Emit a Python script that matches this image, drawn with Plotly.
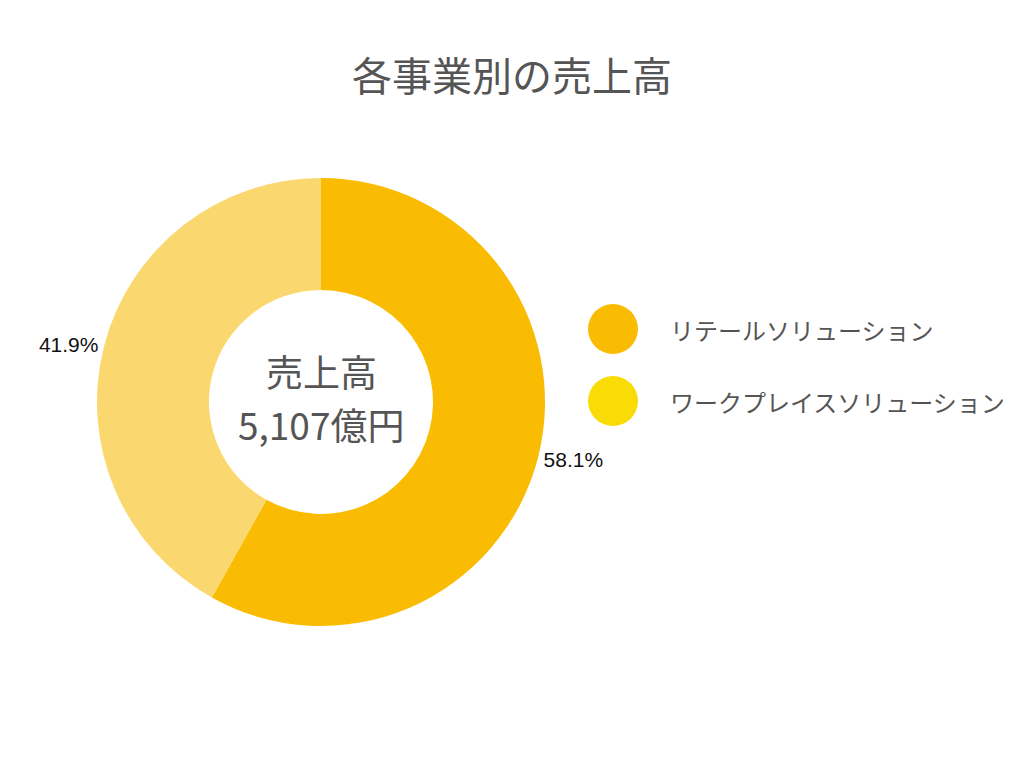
import plotly.graph_objects as go

categories = ["リテールソリューション", "ワークプレイスソリューション"]
shares = [58.1, 41.9]
slice_colors = ["#F9BC03", "#FBD76F"]
legend_colors = ["#F9BC03", "#F9DC05"]
title_text = "各事業別の売上高"
center_label = "売上高"
center_value = "5,107億円"

W, H = 1024, 768
OFF = 8  # page body margin
cx, cy, R = 321 - OFF, 402 - OFF, 224


def px(x):
    return (x - OFF) / W


def py(y):
    return 1 - (y - OFF) / H


fig = go.Figure()
fig.add_trace(go.Pie(
    labels=categories,
    values=shares,
    hole=0.5,
    sort=False,
    direction="clockwise",
    rotation=0,
    marker=dict(colors=slice_colors, line=dict(width=0)),
    textposition="outside",
    texttemplate="%{percent:.1%}",
    textfont=dict(family="Liberation Sans, Arial, sans-serif", size=21, color="#111111"),
    showlegend=False,
    hoverinfo="label+percent",
    domain=dict(x=[(cx - R) / W, (cx + R) / W], y=[1 - (cy + R) / H, 1 - (cy - R) / H]),
))

font_jp = "Noto Sans CJK JP, sans-serif"
annotations = [
    dict(x=px(321), y=py(371), xref="paper", yref="paper", text=center_label,
         xanchor="center", yanchor="middle",
         showarrow=False, font=dict(family=font_jp, size=37, color="#555555")),
    dict(x=px(321), y=py(424), xref="paper", yref="paper", text=center_value,
         xanchor="center", yanchor="middle",
         showarrow=False, font=dict(family=font_jp, size=37, color="#555555")),
]
shapes = []
for i, (name, col) in enumerate(zip(categories, legend_colors)):
    yc = 329 + i * 72
    shapes.append(dict(type="circle", xref="paper", yref="paper",
                       x0=px(613 - 25), x1=px(613 + 25),
                       y0=py(yc + 25), y1=py(yc - 25),
                       fillcolor=col, line=dict(width=0)))
    annotations.append(dict(x=px(668), y=py(yc), xref="paper", yref="paper",
                            xanchor="left", yanchor="middle", text=name, showarrow=False,
                            font=dict(family=font_jp, size=24, color="#555555")))

fig.update_layout(
    width=W, height=H,
    margin=dict(l=0, r=0, t=0, b=0),
    paper_bgcolor="white",
    title=dict(text=title_text, x=px(512), xanchor="center", y=py(77), yanchor="middle",
               font=dict(family=font_jp, size=40, color="#555555")),
    annotations=annotations,
    shapes=shapes,
)

fig.write_html("out.html")
